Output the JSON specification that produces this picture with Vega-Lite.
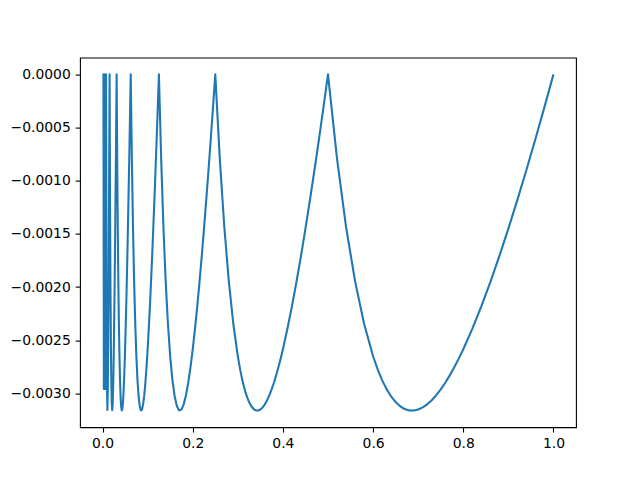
{
  "$schema": "https://vega.github.io/schema/vega-lite/v6.json",
  "autosize": {"type": "none"},
  "width": 496,
  "height": 369.6,
  "padding": {"left": 80, "top": 57.6, "right": 64, "bottom": 52.8},
  "background": "white",
  "config": {
    "view": {"stroke": "black", "strokeWidth": 1.1},
    "axis": {
      "grid": false,
      "domain": false,
      "tickColor": "black",
      "tickSize": 4.86,
      "tickWidth": 1.1,
      "labelPadding": 4.86,
      "labelFont": "DejaVu Sans",
      "labelFontSize": 13.9,
      "labelColor": "black",
      "title": null
    }
  },
  "data": {"values": [
    {"x": 0, "y": 0}, {"x": 0.0009765625, "y": 0}, {"x": 0.001953125, "y": 0}, {"x": 0.0029296875, "y": -0.002959},
    {"x": 0.00390625, "y": 0}, {"x": 0.0048828125, "y": -0.002914}, {"x": 0.005859375, "y": -0.002959}, {"x": 0.0068359375, "y": -0.00177},
    {"x": 0.0078125, "y": 0}, {"x": 0.0087890625, "y": -0.001994}, {"x": 0.009765625, "y": -0.002914}, {"x": 0.0107421875, "y": -0.003157},
    {"x": 0.01171875, "y": -0.002959}, {"x": 0.0126953125, "y": -0.002465}, {"x": 0.013671875, "y": -0.00177}, {"x": 0.0146484375, "y": -0.000934},
    {"x": 0.015625, "y": 0}, {"x": 0.0166015625, "y": -0.001153}, {"x": 0.017578125, "y": -0.001994}, {"x": 0.0185546875, "y": -0.002555},
    {"x": 0.01953125, "y": -0.002914}, {"x": 0.0205078125, "y": -0.003104}, {"x": 0.021484375, "y": -0.003157}, {"x": 0.0224609375, "y": -0.003106},
    {"x": 0.0234375, "y": -0.002959}, {"x": 0.0244140625, "y": -0.002744}, {"x": 0.025390625, "y": -0.002465}, {"x": 0.0263671875, "y": -0.002139},
    {"x": 0.02734375, "y": -0.00177}, {"x": 0.0283203125, "y": -0.001366}, {"x": 0.029296875, "y": -0.000934}, {"x": 0.0302734375, "y": -0.000477},
    {"x": 0.03125, "y": 0},
    {"x": 0.0325, "y": -0.000792}, {"x": 0.03375, "y": -0.001433}, {"x": 0.035, "y": -0.001944}, {"x": 0.03625, "y": -0.002345},
    {"x": 0.0375, "y": -0.002651}, {"x": 0.03875, "y": -0.002875}, {"x": 0.04, "y": -0.003029}, {"x": 0.04125, "y": -0.003121},
    {"x": 0.0425, "y": -0.00316}, {"x": 0.04375, "y": -0.003152}, {"x": 0.045, "y": -0.003103}, {"x": 0.04625, "y": -0.003017},
    {"x": 0.0475, "y": -0.0029}, {"x": 0.04875, "y": -0.002755}, {"x": 0.05, "y": -0.002585}, {"x": 0.05125, "y": -0.002393},
    {"x": 0.0525, "y": -0.002182}, {"x": 0.05375, "y": -0.001953}, {"x": 0.055, "y": -0.001709}, {"x": 0.05625, "y": -0.00145},
    {"x": 0.0575, "y": -0.00118}, {"x": 0.05875, "y": -0.000899}, {"x": 0.06, "y": -0.000608}, {"x": 0.06125, "y": -0.000308},
    {"x": 0.0625, "y": 0},
    {"x": 0.065, "y": -0.000792}, {"x": 0.0675, "y": -0.001433}, {"x": 0.07, "y": -0.001944}, {"x": 0.0725, "y": -0.002345},
    {"x": 0.075, "y": -0.002651}, {"x": 0.0775, "y": -0.002875}, {"x": 0.08, "y": -0.003029}, {"x": 0.0825, "y": -0.003121},
    {"x": 0.085, "y": -0.00316}, {"x": 0.0875, "y": -0.003152}, {"x": 0.09, "y": -0.003103}, {"x": 0.0925, "y": -0.003017},
    {"x": 0.095, "y": -0.0029}, {"x": 0.0975, "y": -0.002755}, {"x": 0.1, "y": -0.002585}, {"x": 0.1025, "y": -0.002393},
    {"x": 0.105, "y": -0.002182}, {"x": 0.1075, "y": -0.001953}, {"x": 0.11, "y": -0.001709}, {"x": 0.1125, "y": -0.00145},
    {"x": 0.115, "y": -0.00118}, {"x": 0.1175, "y": -0.000899}, {"x": 0.12, "y": -0.000608}, {"x": 0.1225, "y": -0.000308},
    {"x": 0.125, "y": 0},
    {"x": 0.13, "y": -0.000792}, {"x": 0.135, "y": -0.001433}, {"x": 0.14, "y": -0.001944}, {"x": 0.145, "y": -0.002345},
    {"x": 0.15, "y": -0.002651}, {"x": 0.155, "y": -0.002875}, {"x": 0.16, "y": -0.003029}, {"x": 0.165, "y": -0.003121},
    {"x": 0.17, "y": -0.00316}, {"x": 0.175, "y": -0.003152}, {"x": 0.18, "y": -0.003103}, {"x": 0.185, "y": -0.003017},
    {"x": 0.19, "y": -0.0029}, {"x": 0.195, "y": -0.002755}, {"x": 0.2, "y": -0.002585}, {"x": 0.205, "y": -0.002393},
    {"x": 0.21, "y": -0.002182}, {"x": 0.215, "y": -0.001953}, {"x": 0.22, "y": -0.001709}, {"x": 0.225, "y": -0.00145},
    {"x": 0.23, "y": -0.00118}, {"x": 0.235, "y": -0.000899}, {"x": 0.24, "y": -0.000608}, {"x": 0.245, "y": -0.000308},
    {"x": 0.25, "y": 0},
    {"x": 0.26, "y": -0.000792}, {"x": 0.27, "y": -0.001433}, {"x": 0.28, "y": -0.001944}, {"x": 0.29, "y": -0.002345},
    {"x": 0.3, "y": -0.002651}, {"x": 0.305, "y": -0.002772}, {"x": 0.31, "y": -0.002875}, {"x": 0.315, "y": -0.00296},
    {"x": 0.32, "y": -0.003029}, {"x": 0.325, "y": -0.003082}, {"x": 0.33, "y": -0.003121}, {"x": 0.335, "y": -0.003147},
    {"x": 0.34, "y": -0.00316}, {"x": 0.345, "y": -0.003161}, {"x": 0.35, "y": -0.003152}, {"x": 0.355, "y": -0.003132},
    {"x": 0.36, "y": -0.003103}, {"x": 0.365, "y": -0.003064}, {"x": 0.37, "y": -0.003017}, {"x": 0.375, "y": -0.002963},
    {"x": 0.38, "y": -0.0029}, {"x": 0.385, "y": -0.002831}, {"x": 0.39, "y": -0.002755}, {"x": 0.395, "y": -0.002673},
    {"x": 0.4, "y": -0.002585}, {"x": 0.41, "y": -0.002393},
    {"x": 0.42, "y": -0.002182}, {"x": 0.43, "y": -0.001953}, {"x": 0.44, "y": -0.001709}, {"x": 0.45, "y": -0.00145},
    {"x": 0.46, "y": -0.00118}, {"x": 0.47, "y": -0.000899}, {"x": 0.48, "y": -0.000608}, {"x": 0.49, "y": -0.000308},
    {"x": 0.5, "y": 0},
    {"x": 0.52, "y": -0.000792}, {"x": 0.54, "y": -0.001433}, {"x": 0.56, "y": -0.001944}, {"x": 0.58, "y": -0.002345},
    {"x": 0.6, "y": -0.002651}, {"x": 0.61, "y": -0.002772}, {"x": 0.62, "y": -0.002875}, {"x": 0.63, "y": -0.00296},
    {"x": 0.64, "y": -0.003029}, {"x": 0.65, "y": -0.003082}, {"x": 0.66, "y": -0.003121}, {"x": 0.67, "y": -0.003147},
    {"x": 0.68, "y": -0.00316}, {"x": 0.69, "y": -0.003161}, {"x": 0.7, "y": -0.003152}, {"x": 0.71, "y": -0.003132},
    {"x": 0.72, "y": -0.003103}, {"x": 0.73, "y": -0.003064}, {"x": 0.74, "y": -0.003017}, {"x": 0.75, "y": -0.002963},
    {"x": 0.76, "y": -0.0029}, {"x": 0.77, "y": -0.002831}, {"x": 0.78, "y": -0.002755}, {"x": 0.79, "y": -0.002673},
    {"x": 0.8, "y": -0.002585}, {"x": 0.82, "y": -0.002393},
    {"x": 0.84, "y": -0.002182}, {"x": 0.86, "y": -0.001953}, {"x": 0.88, "y": -0.001709}, {"x": 0.9, "y": -0.00145},
    {"x": 0.92, "y": -0.00118}, {"x": 0.94, "y": -0.000899}, {"x": 0.96, "y": -0.000608}, {"x": 0.98, "y": -0.000308},
    {"x": 1.0, "y": 0}
  ]},
  "mark": {"type": "line", "color": "#1f77b4", "strokeWidth": 2.08, "strokeJoin": "round", "strokeCap": "butt"},
  "encoding": {
    "x": {
      "field": "x", "type": "quantitative",
      "scale": {"domain": [-0.05, 1.05], "nice": false, "zero": false},
      "axis": {"values": [0, 0.2, 0.4, 0.6, 0.8, 1.0], "format": ".1f"}
    },
    "y": {
      "field": "y", "type": "quantitative",
      "scale": {"domain": [-0.003318, 0.000158], "nice": false, "zero": false},
      "axis": {"values": [0, -0.0005, -0.001, -0.0015, -0.002, -0.0025, -0.003], "format": ".4f"}
    }
  }
}
